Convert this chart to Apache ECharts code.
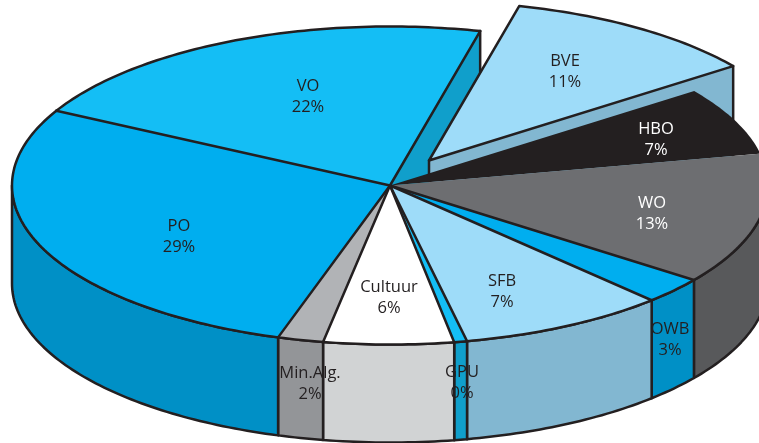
<!DOCTYPE html>
<html><head><meta charset="utf-8">
<style>html,body{margin:0;padding:0;background:#fff}#c{width:759px;height:443px}</style>
<script src="https://cdn.jsdelivr.net/npm/echarts@6/dist/echarts.min.js"></script>
</head><body><div id="c"></div>
<script>
var categories = ['BVE','HBO','WO','OWB','SFB','GPU','Cultuur','Min.Alg.','PO','VO'];
var percentLabels = ['11%','7%','13%','3%','7%','0%','6%','2%','29%','22%'];
var shares = [11.05,6.9,13.35,2.7,8.9,0.55,5.55,1.95,28,21.05];
var topColors = ['#9edcf9','#231f20','#6d6e71','#00aeef','#9edcf9','#14bef5','#ffffff','#b1b3b6','#00aeef','#14bef5'];
var wallColors = ['#82b7d1','#231f20','#58595b','#0090c6','#82b7d1','#109fcb','#d1d3d4','#939598','#0090c6','#109fcb'];
var textColors = ['#231f20','#ffffff','#ffffff','#231f20','#231f20','#231f20','#231f20','#231f20','#231f20','#231f20'];

// Drawing layout (not data)
var CX=390, CY=185.5, RX=378, RY=159, DEPTH=98, START=-76.2, LW=2.5, INK='#231f20';
var EXPLODE=[39,-25];
var LABEL_AT={BVE:[565,71.5],HBO:[656,139.5],WO:[652,213.5],OWB:[670,339.5],SFB:[502,291.5],GPU:[462,382.5],Cultuur:[389,297.5],'Min.Alg.':[310,383.5],PO:[179,236.5],VO:[308,96.5]};

var spans=[], acc=START, total=shares.reduce(function(a,b){return a+b;},0);
shares.forEach(function(s){var d=s/total*360; spans.push([acc,acc+d]); acc+=d;});

function pt(a,ox,oy){var r=a*Math.PI/180; return [CX+(ox||0)+RX*Math.cos(r), CY+(oy||0)+RY*Math.sin(r)];}
function arc(a0,a1,ox,oy){var n=Math.max(2,Math.ceil(Math.abs(a1-a0))),p=[];for(var i=0;i<=n;i++)p.push(pt(a0+(a1-a0)*i/n,ox,oy));return p;}
function poly(points,fill,z){return {type:'polygon',z2:z,shape:{points:points},style:{fill:fill,stroke:null,lineWidth:0}};}
function line(points,z){return {type:'polyline',z2:z,shape:{points:points},style:{fill:null,stroke:INK,lineWidth:LW,lineJoin:'round',lineCap:'round'}};}

function renderSlice(params,api){
  var i=params.dataIndex, name=categories[i], a0=spans[i][0], a1=spans[i][1], kids=[];
  var e = name==='BVE' ? EXPLODE : [0,0], c=[CX+e[0],CY+e[1]];
  if(name==='BVE'){
    var r=pt(a1,e[0],e[1]);
    kids.push(poly([c,r,[r[0],r[1]+DEPTH],[c[0],c[1]+DEPTH]],wallColors[i],2));
    kids.push(line([[r[0],r[1]],[r[0],r[1]+DEPTH]],2));
    kids.push(line([c,[c[0],c[1]+14]],2));
    kids.push(poly([c].concat(arc(a0,a1,e[0],e[1])),topColors[i],3));
    kids.push(line([c].concat(arc(a0,a1,e[0],e[1])).concat([c]),3));
  } else {
    if(name==='VO'){
      var q=pt(a1);
      kids.push(poly([c,q,[q[0],q[1]+DEPTH],[c[0],c[1]+DEPTH]],wallColors[i],1));
      kids.push(line([q,[q[0],q[1]+DEPTH]],1));
    }
    var w0=Math.max(a0,0), w1=Math.min(a1,180);
    if(w1>w0){
      var tp=arc(w0,w1), bt=arc(w1,w0,0,DEPTH);
      kids.push(poly(tp.concat(bt),wallColors[i],4));
      kids.push(line(tp.concat(bt).concat([tp[0]]),4));
    }
    kids.push(poly([c].concat(arc(a0,a1)),topColors[i],5));
    if(name!=='HBO') kids.push(line(arc(a0,a1),6));
    if(name!=='HBO' && name!=='WO') kids.push(line([c,pt(a0)],6));
    if(name==='VO') kids.push(line([c,pt(a1)],6));
  }
  var at=LABEL_AT[name];
  kids.push({type:'text',z2:7,style:{x:at[0],y:at[1],text:name+'\n'+percentLabels[i],fill:textColors[i],
    font:'16.5px "Open Sans", sans-serif',lineHeight:21,align:'center',verticalAlign:'middle'}});
  return {type:'group',children:kids};
}

var chart=echarts.init(document.getElementById('c'),null,{renderer:'canvas'});
chart.setOption({animation:false,backgroundColor:'#fff',
  series:[{type:'custom',coordinateSystem:'none',silent:true,renderItem:renderSlice,
    data:shares.map(function(s,i){return {name:categories[i],value:[s]};})}]});
</script></body></html>
